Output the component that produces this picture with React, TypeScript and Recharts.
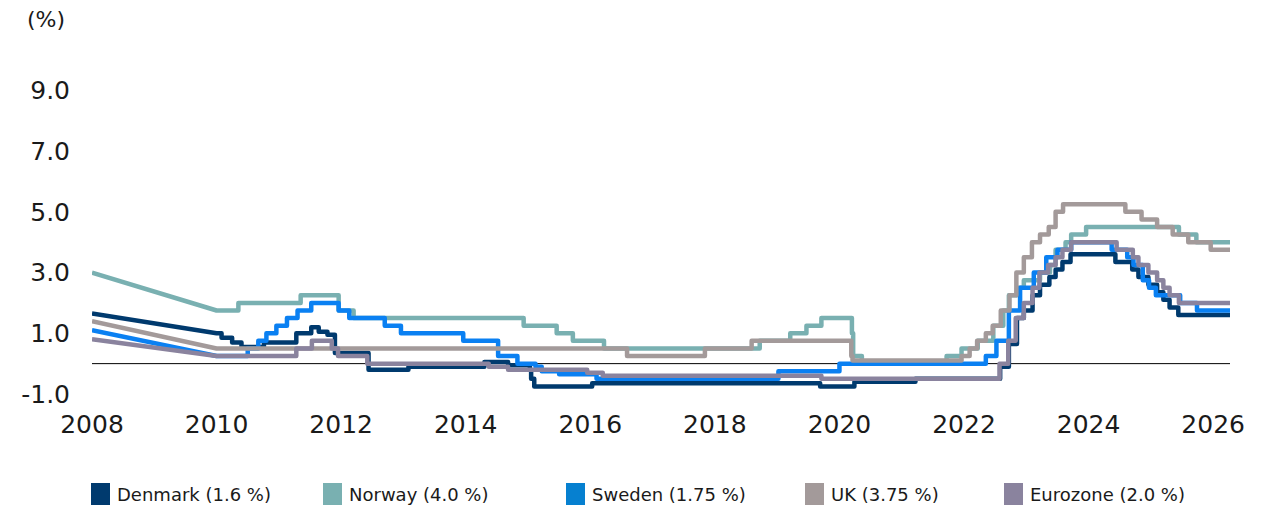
import { LineChart, Line, XAxis, YAxis, ReferenceLine } from 'recharts';

// policy rates, [decimal year, rate %] at each change (first two points are joined by a straight line)
const denmark = [
  [2008.0, 1.65], [2010.0, 1.0], [2010.08, 0.85], [2010.25, 0.7], [2010.4, 0.55], [2010.76, 0.7],
  [2011.28, 1.0], [2011.52, 1.2], [2011.64, 1.05], [2011.78, 0.95], [2011.9, 0.35], [2012.44, -0.2],
  [2013.08, -0.1], [2014.3, 0.05], [2014.68, -0.05], [2015.03, -0.2], [2015.05, -0.5], [2015.1, -0.75],
  [2016.03, -0.65], [2019.69, -0.75], [2020.24, -0.6], [2021.22, -0.5], [2022.58, -0.1], [2022.72, 0.65],
  [2022.85, 1.5], [2022.96, 1.75], [2023.1, 2.25], [2023.22, 2.6], [2023.37, 2.85], [2023.47, 3.1],
  [2023.58, 3.35], [2023.71, 3.6], [2024.43, 3.35], [2024.7, 3.1], [2024.8, 2.85], [2024.96, 2.6],
  [2025.1, 2.35], [2025.2, 2.1], [2025.3, 1.85], [2025.44, 1.6],
];
const norway = [
  [2008.0, 3.0], [2010.0, 1.75], [2010.35, 2.0], [2011.35, 2.25], [2011.96, 1.75], [2012.2, 1.5],
  [2014.93, 1.25], [2015.46, 1.0], [2015.72, 0.75], [2016.22, 0.5], [2018.72, 0.75], [2019.21, 1.0],
  [2019.47, 1.25], [2019.71, 1.5], [2020.2, 1.0], [2020.22, 0.25], [2020.36, 0.0], [2021.72, 0.25],
  [2021.96, 0.5], [2022.22, 0.75], [2022.47, 1.25], [2022.63, 1.75], [2022.72, 2.25], [2022.85, 2.5],
  [2022.96, 2.75], [2023.22, 3.0], [2023.38, 3.25], [2023.47, 3.75], [2023.63, 4.0], [2023.72, 4.25],
  [2023.96, 4.5], [2025.45, 4.25], [2025.73, 4.0],
];
const sweden = [
  [2008.0, 1.1], [2010.0, 0.25], [2010.5, 0.5], [2010.67, 0.75], [2010.8, 1.0], [2010.96, 1.25],
  [2011.13, 1.5], [2011.3, 1.75], [2011.52, 2.0], [2011.96, 1.75], [2012.13, 1.5], [2012.7, 1.25],
  [2012.96, 1.0], [2013.96, 0.75], [2014.52, 0.25], [2014.83, 0.0], [2015.12, -0.1], [2015.22, -0.25],
  [2015.5, -0.35], [2016.1, -0.5], [2019.02, -0.25], [2020.0, 0.0], [2022.35, 0.25], [2022.52, 0.75],
  [2022.72, 1.75], [2022.9, 2.5], [2023.12, 3.0], [2023.32, 3.5], [2023.5, 3.75], [2023.72, 4.0],
  [2024.37, 3.75], [2024.62, 3.5], [2024.72, 3.25], [2024.87, 2.75], [2024.97, 2.5], [2025.08, 2.25],
  [2025.47, 2.0], [2025.74, 1.75],
];
const uk = [
  [2008.0, 1.4], [2010.0, 0.5], [2016.59, 0.25], [2017.84, 0.5], [2018.59, 0.75], [2020.19, 0.25],
  [2020.21, 0.1], [2021.96, 0.25], [2022.09, 0.5], [2022.21, 0.75], [2022.35, 1.0], [2022.46, 1.25],
  [2022.59, 1.75], [2022.73, 2.25], [2022.84, 3.0], [2022.96, 3.5], [2023.09, 4.0], [2023.22, 4.25],
  [2023.36, 4.5], [2023.47, 5.0], [2023.59, 5.25], [2024.59, 5.0], [2024.85, 4.75], [2025.1, 4.5],
  [2025.35, 4.25], [2025.6, 4.0], [2025.96, 3.75],
];
const eurozone = [
  [2008.0, 0.8], [2010.0, 0.25], [2011.28, 0.5], [2011.53, 0.75], [2011.85, 0.5], [2011.95, 0.25],
  [2012.42, 0.0], [2014.37, -0.1], [2014.68, -0.2], [2015.95, -0.3], [2016.2, -0.4], [2019.71, -0.5],
  [2022.57, 0.0], [2022.71, 0.75], [2022.83, 1.5], [2022.96, 2.0], [2023.1, 2.5], [2023.21, 3.0],
  [2023.35, 3.25], [2023.47, 3.5], [2023.58, 3.75], [2023.72, 4.0], [2024.45, 3.75], [2024.71, 3.5],
  [2024.8, 3.25], [2024.96, 3.0], [2025.1, 2.75], [2025.2, 2.5], [2025.3, 2.25], [2025.45, 2.0],
];

const lastDate = 2026.27;
const yearTicks = [2008, 2010, 2012, 2014, 2016, 2018, 2020, 2022, 2024, 2026];
const rateTicks = [-1, 1, 3, 5, 7, 9];

const seriesNames = ['Denmark (1.6 %)', 'Norway (4.0 %)', 'Sweden (1.75 %)', 'UK (3.75 %)', 'Eurozone (2.0 %)'];
const seriesData = [denmark, norway, sweden, uk, eurozone];
const lineColors = ['#003a6e', '#79b0b1', '#0a80f2', '#a39a9a', '#8a839e'];
const legendColors = ['#003a6e', '#79b0b1', '#0680d0', '#a39a9a', '#8a839e'];
const legendLeft = [91, 323, 566, 805, 1004];

const FONT = '"DejaVu Sans", sans-serif';

// first segment is a straight line, after that each change is a step
const toSteps = (changes: number[][]) => {
  const pts = [{ x: changes[0][0], y: changes[0][1] }, { x: changes[1][0], y: changes[1][1] }];
  for (let i = 2; i < changes.length; i++) {
    pts.push({ x: changes[i][0], y: changes[i - 1][1] });
    pts.push({ x: changes[i][0], y: changes[i][1] });
  }
  pts.push({ x: lastDate, y: changes[changes.length - 1][1] });
  return pts;
};

const App = () => {
  return (
    <div style={{ position: 'relative', width: 1284, height: 511, fontFamily: FONT, background: '#fff' }}>
      <style>{'body{margin:0}'}</style>
      <div style={{ position: 'absolute', left: 27, top: 7, fontSize: 22, color: '#1a1a1a' }}>(%)</div>
      <LineChart width={1284} height={460} margin={{ top: 60, right: 54, left: 0, bottom: 0 }}>
        <XAxis
          dataKey="x"
          type="number"
          domain={[2008, lastDate]}
          ticks={yearTicks}
          axisLine={false}
          tickLine={false}
          tickMargin={15}
          height={66}
          allowDataOverflow
          tick={{ fontSize: 25, fill: '#1a1a1a', fontFamily: FONT }}
        />
        <YAxis
          type="number"
          domain={[-1, 10]}
          ticks={rateTicks}
          axisLine={false}
          tickLine={false}
          tickMargin={16}
          width={92}
          tickFormatter={(v) => v.toFixed(1)}
          tick={{ fontSize: 25, fill: '#1a1a1a', fontFamily: FONT }}
        />
        <ReferenceLine y={0} stroke="#000" strokeWidth={1} />
        {seriesData.map((s, i) => (
          <Line
            key={seriesNames[i]}
            data={toSteps(s)}
            dataKey="y"
            name={seriesNames[i]}
            type="linear"
            stroke={lineColors[i]}
            strokeWidth={4.5}
            strokeLinejoin="round"
            dot={false}
            activeDot={false}
            isAnimationActive={false}
          />
        ))}
      </LineChart>
      {seriesNames.map((name, i) => (
        <div
          key={name}
          style={{ position: 'absolute', left: legendLeft[i], top: 483, display: 'flex', alignItems: 'center' }}
        >
          <div style={{ width: 19, height: 22, background: legendColors[i] }} />
          <span style={{ marginLeft: 7, fontSize: 18, color: '#1a1a1a' }}>{name}</span>
        </div>
      ))}
    </div>
  );
};

export default App;
